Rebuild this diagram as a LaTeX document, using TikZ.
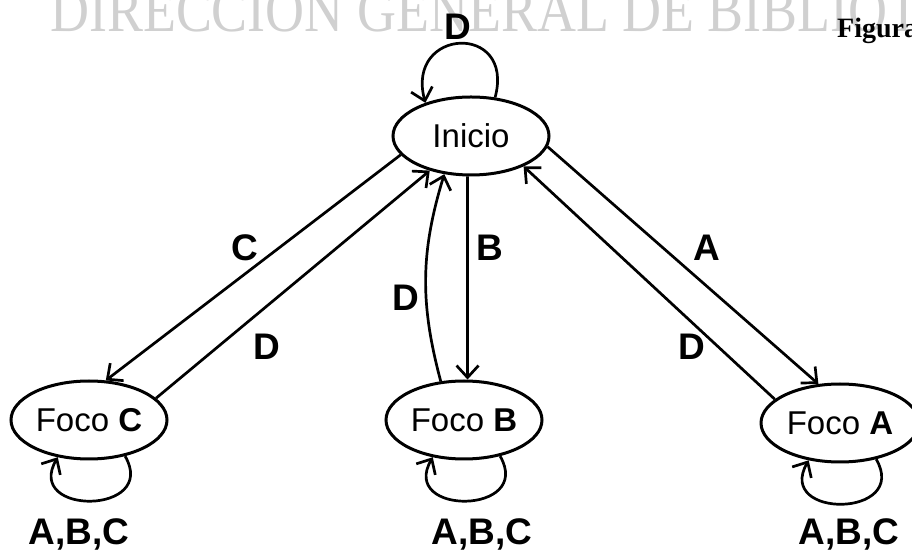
\documentclass[tikz,border=0pt]{standalone}
\usepackage{fontspec}
\setmainfont{Liberation Serif}
\setsansfont{Liberation Sans}
\usetikzlibrary{arrows.meta,shapes.geometric}
\definecolor{marcagris}{RGB}{208,208,208}

\tikzset{
  estado/.style={draw, ellipse, line width=3pt, minimum width=156pt,
                 minimum height=78pt, inner sep=0pt,
                 font=\sffamily\fontsize{33}{36}\selectfont},
  etiqueta/.style={inner sep=0pt, font=\sffamily\bfseries\fontsize{37}{40}\selectfont},
  trans/.style={->, line width=2.7pt},
  >={Straight Barb[length=12pt,width=22pt]}
}

\begin{document}
\begin{tikzpicture}[x=1pt,y=1pt]
\useasboundingbox (0,0) rectangle (912,551);
\clip (0,0) rectangle (912,551);

% watermark of the scan
\node[anchor=base west, inner sep=0pt, text=marcagris, xscale=0.87,
      font=\fontsize{62}{66}\selectfont] (marca) at (50,519) {DIRECCION GENERAL DE BIBLIOT};
\node[anchor=base west, inner sep=0pt,
      font=\bfseries\fontsize{28}{30}\selectfont] (figura) at (837,513) {Figura};

% states
\node[estado] (ini) at (471,415) {Inicio};
\node[estado] (fc) at (89,131) {Foco \textbf{C}};
\node[estado] (fb) at (464,131) {Foco \textbf{B}};
\node[estado, minimum width=158pt] (fa) at (840,128) {Foco \textbf{A}};

% transitions
\draw[trans] (ini.195) -- (fc.67);
\draw[trans] (fc.18) -- (ini.220);
\draw[trans] (ini.265) -- (fb.85);
\draw[trans] (fb.121) to[bend left=16] (ini.235);
\draw[trans] (ini.352) -- (fa.119);
\draw[trans] (fa.160) -- (ini.330);

% self loops
\draw[trans] (ini.58) .. controls +(75:78) and +(105:78) .. (ini.144);
\foreach \n in {fc,fb,fa}
  \draw[trans] (\n.-45) .. controls +(-60:68) and +(-120:68) .. (\n.-130);

% labels
\node[etiqueta] (ld) at (458,524) {D};
\node[etiqueta] (lc) at (245,303) {C};
\node[etiqueta] (ldc) at (267,204) {D};
\node[etiqueta] (ldb) at (406,253) {D};
\node[etiqueta] (lb) at (490,303) {B};
\node[etiqueta] (la) at (707,303) {A};
\node[etiqueta] (lda) at (692,204) {D};
\node[etiqueta, anchor=base] (rc) at (79,7) {A,B,C};
\node[etiqueta, anchor=base] (rb) at (482,7) {A,B,C};
\node[etiqueta, anchor=base] (ra) at (849,6) {A,B,C};
\end{tikzpicture}
\end{document}
